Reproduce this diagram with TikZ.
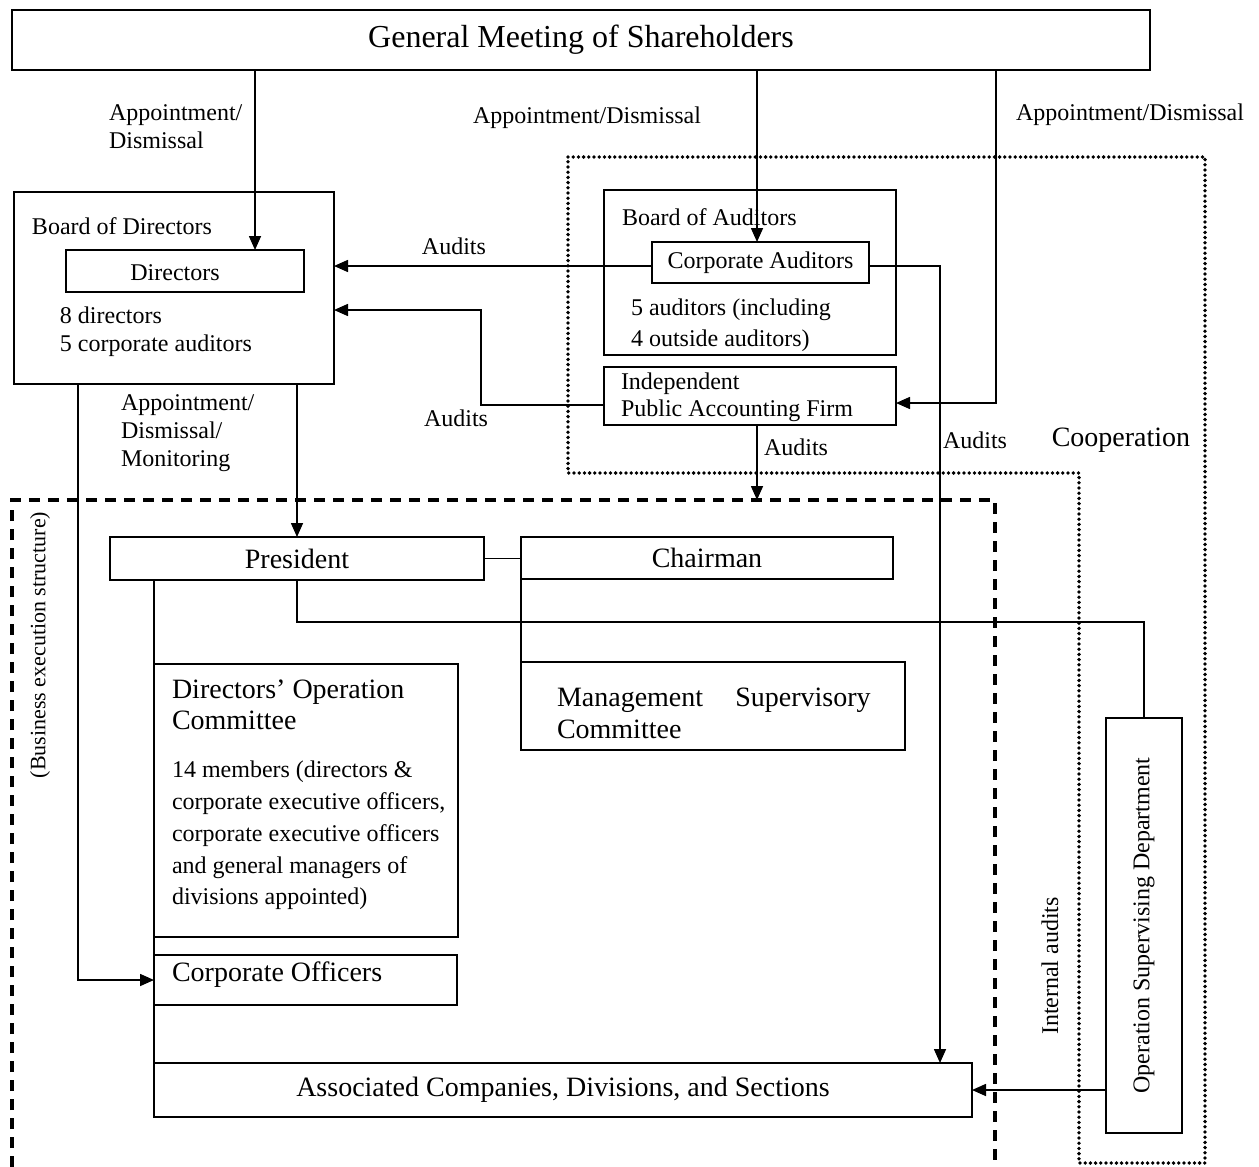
\documentclass[tikz,border=0pt]{standalone}
\usepackage{fontspec}
\setmainfont{Liberation Serif}
\usetikzlibrary{arrows.meta}
\newcommand\fmed{\fontsize{12}{14}\selectfont}
\newcommand\fbig{\fontsize{14}{16}\selectfont}
\newcommand\fgms{\fontsize{16}{18}\selectfont}
\begin{document}
\begin{tikzpicture}[x=0.5pt,y=-0.5pt,
  box/.style={draw, line width=1pt, inner sep=0pt, outer sep=0pt},
  ln/.style={line width=0.8pt},
  arr/.style={ln, -{Triangle[length=7pt,width=6pt]}},
  lbl/.style={inner sep=0pt, outer sep=0pt, font=\fmed},
  dashframe/.style={line width=1.7pt, dash pattern=on 5.5pt off 4pt},
  dotframe/.style={line width=1.9pt, line cap=round, dash pattern=on 0pt off 2.6pt}]
\useasboundingbox (0,0) rectangle (1259,1167);

% frames
\draw[dotframe] (568,157) -- (1205,157) -- (1205,1163) -- (1079,1163) -- (1079,473) -- (568,473) -- cycle;
\draw[dashframe] (12,1167) -- (12,500) -- (995,500) -- (995,1167);

% boxes
\node[box, minimum width=569pt, minimum height=30pt, font=\fgms] (gms) at (581,40) {General Meeting of Shareholders};
\node[box, minimum width=160pt, minimum height=96pt] (bod) at (174,288) {};
\node[box, minimum width=119pt, minimum height=21pt] (dir) at (185,271) {};
\node[lbl] (dirt) at (175,273) {Directors};
\node[box, minimum width=146pt, minimum height=82.5pt] (boa) at (750,272.5) {};
\node[box, minimum width=108.5pt, minimum height=20.5pt, font=\fmed] (ca) at (760.5,262.5) {Corporate Auditors};
\node[box, minimum width=146pt, minimum height=29pt] (ipaf) at (750,396) {};
\node[box, minimum width=187pt, minimum height=21.5pt, font=\fbig] (pres) at (297,558.5) {President};
\node[box, minimum width=186pt, minimum height=21pt, font=\fbig] (chair) at (707,558) {Chairman};
\node[box, minimum width=152pt, minimum height=136.5pt] (doc) at (306,800.5) {};
\node[box, minimum width=192pt, minimum height=44pt] (msc) at (713,706) {};
\node[box, minimum width=151.5pt, minimum height=25pt] (co) at (305.5,980) {};
\node[box, minimum width=409pt, minimum height=27pt, font=\fbig] (ac) at (563,1090) {Associated Companies, Divisions, and Sections};
\node[box, minimum width=38pt, minimum height=207.5pt] (osd) at (1144,925.5) {};
\node[lbl, rotate=90] (osdt) at (osd.center) {Operation Supervising Department};

% helper coordinates
\coordinate (x255) at (255,0);
\coordinate (x757) at (757,0);
\coordinate (x996) at (996,0);
\coordinate (x940) at (940,0);
\coordinate (x78) at (78,0);
\coordinate (k481) at (481,310);
\coordinate (dtop) at (757,500);
\coordinate (y622) at (0,622);

% connectors
\draw[arr] (gms.south -| x255) -- (dir.north -| x255);
\draw[arr] (gms.south -| x757) -- (ca.north -| x757);
\draw[arr] (gms.south -| x996) |- ([yshift=-3.5pt]ipaf.east);
\draw[arr] ([yshift=-1.75pt]ca.west) -- ([yshift=-1.75pt]ca.west -| bod.east);
\draw[arr] ([yshift=-4.5pt]ipaf.west) -| (k481) -- (k481 -| bod.east);
\draw[arr] ([yshift=-1.75pt]ca.east) -| (ac.north -| x940);
\draw[arr] (ipaf.south -| dtop) -- (dtop);
\draw[arr] (bod.south -| pres.north) -- (pres.north);
\draw[arr] (bod.south -| x78) |- (co.west);
\draw[ln] (pres.east) -- (pres.east -| chair.west);
\draw[ln] (chair.south west) -- (msc.north west);
\draw[ln] (pres.south) |- (y622 -| osd.north) -- (osd.north);
\draw[ln] (pres.south -| ac.north west) -- (ac.north west);
\draw[arr] (osd.west |- ac.east) -- (ac.east);

% labels
\node[lbl, anchor=west, align=left] (l1) at (109,127) {Appointment/\\Dismissal};
\node[lbl] (l2) at (587,118) {Appointment/Dismissal};
\node[lbl] (l3) at (1130,115) {Appointment/Dismissal};
\node[lbl, anchor=west] (l4) at (32,226) {Board of Directors};
\node[lbl, anchor=west, align=left] (l5) at (60,332) {8 directors\\5 corporate auditors};
\node[lbl] (l6) at (454,246) {Audits};
\node[lbl] (l7) at (456,418) {Audits};
\node[lbl, anchor=west, align=left] (l8) at (121,433) {Appointment/\\Dismissal/\\Monitoring};
\node[lbl, anchor=west] (l9) at (622,217) {Board of Auditors};
\node[lbl, anchor=west, align=left, font=\fontsize{12}{15.5}\selectfont] (l10) at (631,325) {5 auditors (including\\4 outside auditors)};
\node[lbl, anchor=west, align=left, font=\fontsize{12}{13.5}\selectfont] (l11) at (621,397) {Independent\\Public Accounting Firm};
\node[lbl] (l12) at (796,447) {Audits};
\node[lbl] (l13) at (975,440) {Audits};
\node[lbl, font=\fbig] (l14) at (1121,440) {Cooperation};
\node[lbl, rotate=90, font=\fontsize{11}{13}\selectfont] (l15) at (40,645) {(Business execution structure)};
\node[lbl, anchor=west, align=left, font=\fontsize{14}{15.5}\selectfont] (l16) at (172,705) {Directors’ Operation\\Committee};
\node[lbl, anchor=west, align=left, font=\fontsize{12}{15.9}\selectfont] (l17) at (172,835.5) {14 members (directors \&\\corporate executive officers,\\corporate executive officers\\and general managers of\\divisions appointed)};
\node[lbl, anchor=west, align=left, font=\fontsize{14}{16}\selectfont] (l18) at (557,713) {Management\hspace{0.9em} Supervisory\\Committee};
\node[lbl, anchor=west, font=\fbig] (l19) at (172,975) {Corporate Officers};
\node[lbl, rotate=90] (l20) at (1050,966) {Internal audits};
\end{tikzpicture}
\end{document}
